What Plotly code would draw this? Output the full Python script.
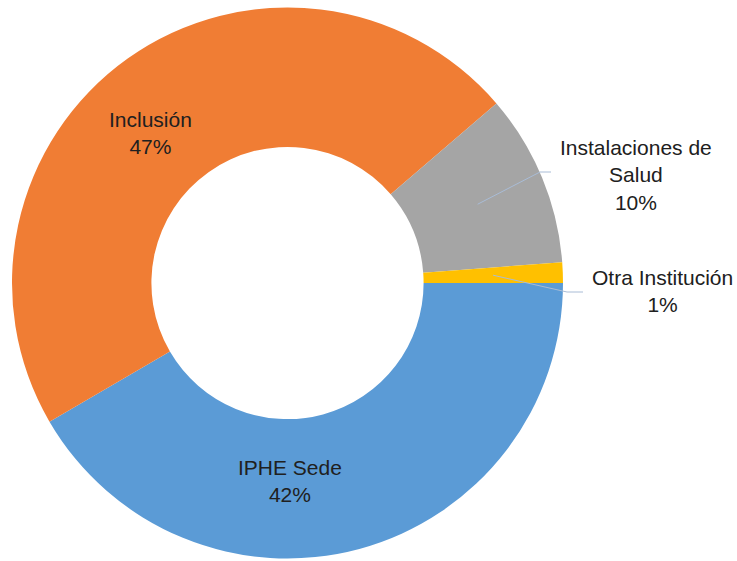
import math
import plotly.graph_objects as go

# ---- data ----
labels = ["IPHE Sede", "Inclusión", "Instalaciones de Salud", "Otra Institución"]
display_labels = ["IPHE Sede", "Inclusión", "Instalaciones de<br>Salud", "Otra Institución"]
values = [41.6, 47.1, 10.1, 1.2]
colors = ["#5B9BD6", "#F07D34", "#A5A5A5", "#FFC000"]

# ---- layout constants (pixels) ----
W, H = 737, 561
x0, x1, y0, y1 = 12, 563, 7.5, 558.5          # pie domain in pixels
R = (x1 - x0) / 2
HOLE = 0.494
cx, cy = (x0 + x1) / 2, (y0 + y1) / 2
label_pos = [(290, 481), (150, 133), (636, 175), (662, 291)]
leader = {2: [(540, 172), (551, 172)], 3: [(567, 292), (583, 292)]}


def px(x):
    return x / W


def py(y):
    return 1 - y / H


fig = go.Figure(go.Pie(
    labels=labels, values=values, hole=HOLE, sort=False,
    direction="clockwise", rotation=90,
    marker=dict(colors=colors, line=dict(width=0)),
    textinfo="none", hoverinfo="label+percent", showlegend=False,
    domain=dict(x=[px(x0), px(x1)], y=[py(y1), py(y0)]),
))

total = sum(values)
annotations, shapes = [], []
cum = 0
for i, v in enumerate(values):
    pct = round(v / total * 100)
    mid = (cum + v / 2) / total
    cum += v
    lx, ly = label_pos[i]
    annotations.append(dict(
        x=px(lx), y=py(ly), xref="paper", yref="paper", showarrow=False,
        text=f"{display_labels[i]}<br>{pct}%", align="center",
        font=dict(family="Liberation Sans, Arial, sans-serif", size=21, color="#202020"),
        xanchor="center", yanchor="middle",
    ))
    if i in leader:
        ang = math.radians(mid * 360)  # clockwise from 3 o'clock
        rm = R * (1 + HOLE) / 2
        tx, ty = cx + rm * math.cos(ang), cy + rm * math.sin(ang)
        pts = [(tx, ty)] + leader[i]
        path = "M " + " L ".join(f"{px(a)},{py(b)}" for a, b in pts)
        shapes.append(dict(type="path", xref="paper", yref="paper", path=path,
                           line=dict(color="#A9BCD6", width=1)))

fig.update_layout(
    width=W, height=H, margin=dict(l=0, r=0, t=0, b=0),
    paper_bgcolor="white", plot_bgcolor="white",
    annotations=annotations, shapes=shapes,
)

fig.write_html("out.html", config={"displayModeBar": False},
               post_script="document.body.style.margin='0';document.body.style.overflow='hidden';")
